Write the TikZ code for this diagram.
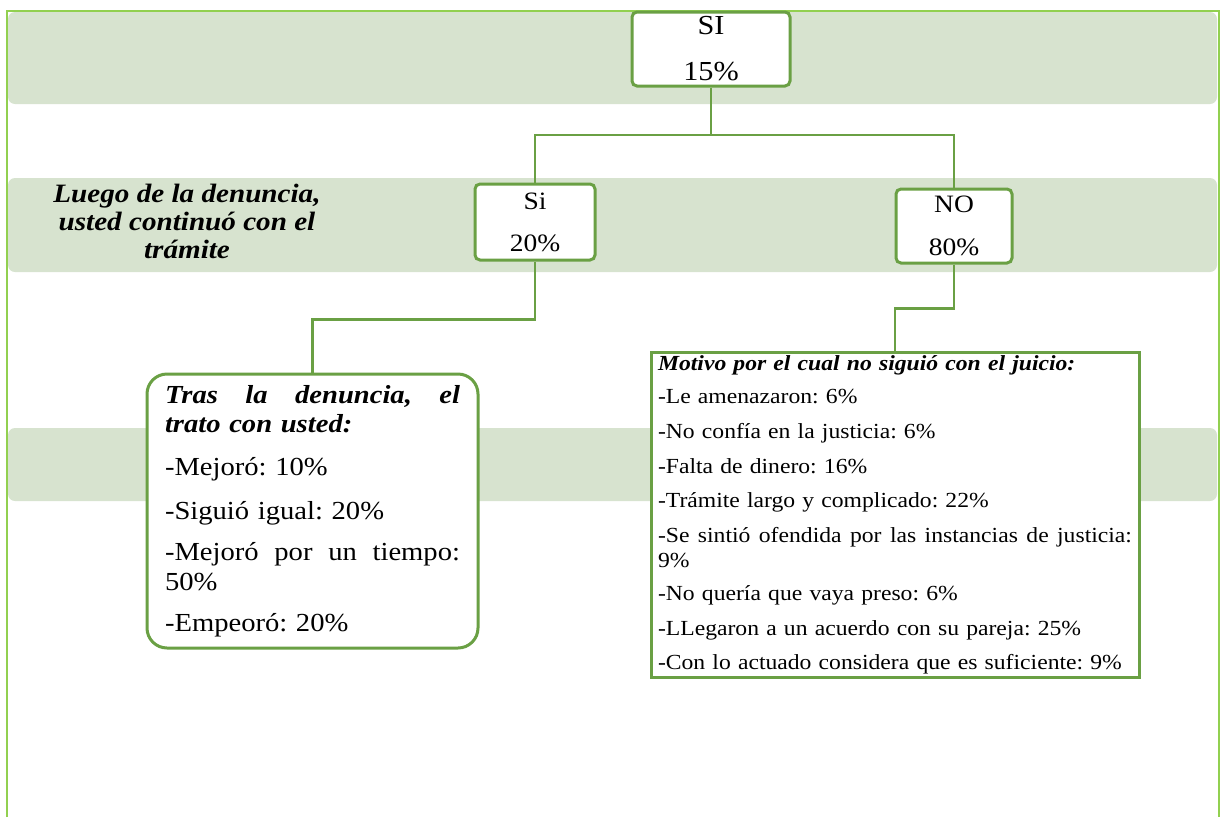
\documentclass[tikz,border=0pt]{standalone}
\usepackage{fontspec}
\setmainfont[FakeStretch=1.1]{Liberation Serif}
\usepackage{tikz}
\usetikzlibrary{positioning}
\definecolor{framegreen}{RGB}{146,208,80}
\definecolor{bandgreen}{RGB}{215,227,207}
\definecolor{boxgreen}{RGB}{106,160,68}
\frenchspacing

\begin{document}
\begin{tikzpicture}[x=1pt,y=-1pt,
    box/.style={draw=boxgreen,line width=3pt,fill=white,rounded corners=5pt,align=center,inner sep=0pt},
    conn/.style={draw=boxgreen,line width=2.8pt},
    band/.style={fill=bandgreen,rounded corners=7pt}]
\useasboundingbox (0,0) rectangle (1221,817);

% Bands
\fill[band] (8,12) rectangle (1217,104);
\fill[band] (8,178) rectangle (1217,272);
\fill[band] (8,428) rectangle (1217,501);

% Frame
\draw[framegreen,line width=2pt] (7,817) -- (7,11) -- (1219,11) -- (1219,817);

% Question
\node[align=center,font=\fontsize{26.5}{28}\selectfont\bfseries\itshape] (pregunta) at (187,221)
    {Luego de la denuncia,\\usted continuó con el\\trámite};

% Boxes
\node[box,minimum width=158,minimum height=74,font=\fontsize{27.5}{46}\selectfont] (si15) at (711,49) {SI\\15\%};
\node[box,minimum width=120,minimum height=76,font=\fontsize{25}{42}\selectfont] (si20) at (535,222) {Si\\20\%};
\node[box,minimum width=116,minimum height=74,font=\fontsize{25}{43}\selectfont] (no80) at (954,226) {NO\\80\%};

\node[box,rounded corners=20pt,minimum width=331,minimum height=274,text width=295,align=left,
    font=\fontsize{26}{29.5}\selectfont] (trato) at (312.5,511) {%
    \textbf{\textit{Tras\hfill la\hfill denuncia,\hfill el}}\\
    \textbf{\textit{trato con usted:}}\\[13.5pt]
    -Mejoró: 10\%\\[14.5pt]
    -Siguió igual: 20\%\\[11.5pt]
    -Mejoró\hfill por\hfill un\hfill tiempo:\\
    50\%\\[11.5pt]
    -Empeoró: 20\%};

\node[box,rounded corners=0pt,minimum width=488,minimum height=325,text width=474,align=left,
    font=\fontsize{21.5}{25}\selectfont] (motivo) at (895,514.5) {%
    \textbf{\textit{Motivo por el cual no siguió con el juicio:}}\\[8pt]
    -Le amenazaron: 6\%\\[10pt]
    -No confía en la justicia: 6\%\\[10pt]
    -Falta de dinero: 16\%\\[9pt]
    -Trámite largo y complicado: 22\%\\[10pt]
    -Se\hfill sintió\hfill ofendida\hfill por\hfill las\hfill instancias\hfill de\hfill justicia:\\
    9\%\\[8pt]
    -No quería que vaya preso: 6\%\\[10pt]
    -LLegaron a un acuerdo con su pareja: 25\%\\[9pt]
    -Con lo actuado considera que es suficiente: 9\%};

% Connectors
\coordinate (split) at (711,135);
\draw[conn] (si15.south) -- (split);
\draw[conn] (split) -| (si20.north);
\draw[conn] (split) -| (no80.north);
\draw[conn] (si20.south) -- ++(0,58) -| (trato.north);
\draw[conn] (no80.south) -- ++(0,44) -| (motivo.north);
\end{tikzpicture}
\end{document}
